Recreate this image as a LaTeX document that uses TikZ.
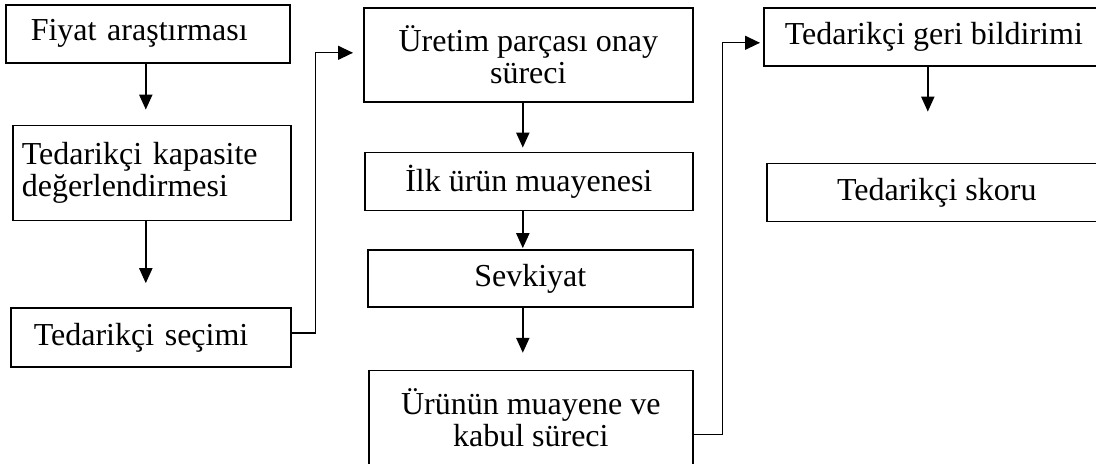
\documentclass[tikz,border=0pt]{standalone}
\usepackage{fontspec}
\setmainfont{Liberation Serif}
\usetikzlibrary{calc,arrows.meta}

\begin{document}
\begin{tikzpicture}[x=0.5pt,y=-0.5pt,
    stage/.style={draw,rectangle,line width=0.8pt,inner sep=0pt,align=center,anchor=north west,font={\fontsize{16}{16}\selectfont}},
    leftstage/.style={stage,align=left},
    flow/.style={line width=1pt,-{Triangle[length=7.5pt,width=6.5pt]}},
    link/.style={line width=0.65pt,-{Triangle[length=7.5pt,width=7pt]}}]
                \useasboundingbox (0,0) rectangle (1096,463);

                \node[leftstage,inner xsep=12.5pt,text width=117pt,minimum height=29pt] (fiyat) at (5,4) {Fiyat araştırması};

                \node[leftstage,inner xsep=4.5pt,text width=130pt,minimum height=47.5pt] (kapasite) at ($ (fiyat.south west) + (7,61) $) {
                    Tedarikçi kapasite\\değerlendirmesi
                };

                \node[leftstage,inner xsep=11.5pt,text width=117pt,minimum height=29.5pt] (secim) at ($ (kapasite.south west) + (-2,86) $) {Tedarikçi seçimi};

                \node[stage,minimum width=164.5pt,minimum height=47pt] (uretim) at ($ (fiyat.north west) + (358,3) $) {
                    Üretim parçası onay\\süreci
                };

                \node[stage,minimum width=164pt,minimum height=29pt] (ilk) at ($ (uretim.south west) + (1,49) $) {İlk ürün muayenesi};

                \node[stage,minimum width=162.5pt,minimum height=28.5pt] (sevk) at ($ (ilk.south west) + (3,38) $) {Sevkiyat};

                \node[stage,minimum width=162pt,minimum height=47.5pt] (urunun) at ($ (sevk.south west) + (1,62) $) {
                    Ürünün muayene ve\\kabul süreci
                };

                \node[stage,minimum width=170pt,minimum height=29pt] (geri) at ($ (uretim.north west) + (400,0) $) {Tedarikçi geri bildirimi};

                \node[stage,minimum width=170pt,minimum height=29pt] (skor) at ($ (geri.south west) + (3,96) $) {Tedarikçi skoru};

                \draw[flow,shorten >=7.5pt] ([xshift=-1pt]fiyat.south) -- ([xshift=-1pt]fiyat.south |- kapasite.north);
                \draw[flow,shorten >=12pt] ([xshift=-3pt]kapasite.south) -- ([xshift=-3pt]kapasite.south |- secim.north);
                \draw[flow,shorten >=2pt] ([xshift=-2.75pt]uretim.south) -- ([xshift=-2.75pt]uretim.south |- ilk.north);
                \draw[flow,shorten >=0.5pt] ([xshift=-3pt]ilk.south) -- ([xshift=-3pt]ilk.south |- sevk.north);
                \draw[flow,shorten >=8.5pt] ([xshift=-3.75pt]sevk.south) -- ([xshift=-3.75pt]sevk.south |- urunun.north);
                \draw[flow,shorten >=25.5pt] ([xshift=-3pt]geri.south) -- ([xshift=-3pt]geri.south |- skor.north);

                \draw[link,shorten >=5pt] ([yshift=2.25pt]secim.east) -- ++(24,0) |- ([yshift=1pt]uretim.west);
                \draw[link,shorten >=1.5pt] ([yshift=-8.25pt]urunun.east) -- ++(29,0) |- ([yshift=-3pt]geri.west);
            \end{tikzpicture}
\end{document}
